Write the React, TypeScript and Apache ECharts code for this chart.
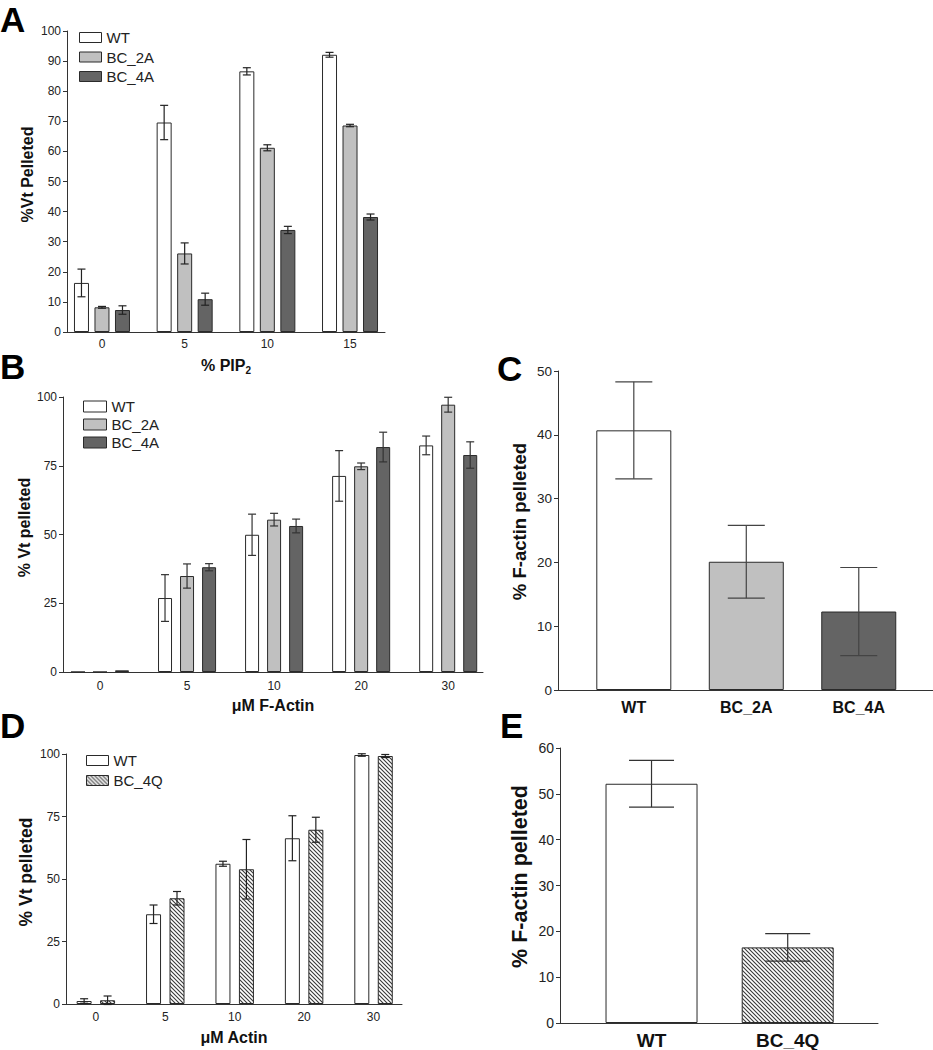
import React, { useEffect, useRef } from 'react';
import * as echarts from 'echarts';

// ---------- data ----------
const pipCats = ['0', '5', '10', '15'];
const aWT = [16.3, 69.6, 86.6, 92.1];
const aWTErr = [4.6, 5.7, 1.2, 0.8];
const a2A = [8.2, 26.1, 61.2, 68.6];
const a2AErr = [0.3, 3.5, 1.0, 0.4];
const a4A = [7.3, 10.9, 33.9, 38.2];
const a4AErr = [1.4, 2.0, 1.2, 1.0];

const fActinCats = ['0', '5', '10', '20', '30'];
const bWT = [0, 26.9, 49.9, 71.3, 82.4];
const bWTErr = [0, 8.5, 7.5, 9.2, 3.4];
const b2A = [0, 34.9, 55.4, 74.8, 97.2];
const b2AErr = [0, 4.4, 2.3, 1.2, 2.7];
const b4A = [0.6, 38.1, 53.1, 81.8, 78.9];
const b4AErr = [0, 1.3, 2.5, 5.4, 4.8];

const cCats = ['WT', 'BC_2A', 'BC_4A'];
const cVals = [40.7, 20.1, 12.3];
const cErr = [7.6, 5.7, 6.9];

const actinCats = ['0', '5', '10', '20', '30'];
const dWT = [1.2, 35.9, 56.1, 66.3, 99.6];
const dWTErr = [0.9, 3.7, 1.0, 9.0, 0.5];
const d4Q = [1.5, 42.3, 53.9, 69.7, 99.2];
const d4QErr = [1.7, 2.7, 11.9, 5.0, 0.6];

const eCats = ['WT', 'BC_4Q'];
const eVals = [52.2, 16.5];
const eErr = [5.1, 3.0];

// ---------- styles ----------
const FONT = "'Liberation Sans', Arial, Helvetica, sans-serif";
const AXIS_COLOR = '#333';
const LABEL_COLOR = '#222';
const BORDER = '#2a2a2a';
const WHITE = '#ffffff';
const LIGHT = '#c0c0c0';
const DARK = '#646464';

function makeHatch() {
  const c = document.createElement('canvas');
  c.width = 4;
  c.height = 4;
  const ctx = c.getContext('2d')!;
  ctx.fillStyle = '#ffffff';
  ctx.fillRect(0, 0, 4, 4);
  ctx.strokeStyle = '#3a3a3a';
  ctx.lineWidth = 1.1;
  ctx.beginPath();
  ctx.moveTo(-1, -1);
  ctx.lineTo(5, 5);
  ctx.moveTo(-1, 3);
  ctx.lineTo(1, 5);
  ctx.moveTo(3, -1);
  ctx.lineTo(5, 1);
  ctx.stroke();
  return c;
}

function barSeries(name: string, grid: number, values: number[], offset: number, width: number, color: any) {
  return {
    type: 'bar',
    name,
    xAxisIndex: grid,
    yAxisIndex: grid,
    barWidth: width,
    barGap: '-100%',
    data: values.map((v, i) => [i + offset, v]),
    itemStyle: { color, borderColor: BORDER, borderWidth: 1 },
    z: 2,
  };
}

function errSeries(grid: number, values: number[], errs: number[], offset: number, cap: number, color: string) {
  return {
    type: 'custom',
    xAxisIndex: grid,
    yAxisIndex: grid,
    silent: true,
    z: 5,
    data: values.map((v, i) => [i + offset, v, errs[i]]),
    renderItem: (params: any, api: any) => {
      const x = api.value(0);
      const m = api.value(1);
      const e = api.value(2);
      if (!e) return { type: 'group', children: [] };
      const top = api.coord([x, m + e]);
      const bot = api.coord([x, m - e]);
      const style = { stroke: color, lineWidth: 1.2 };
      return {
        type: 'group',
        children: [
          { type: 'line', shape: { x1: top[0], y1: top[1], x2: bot[0], y2: bot[1] }, style },
          { type: 'line', shape: { x1: top[0] - cap / 2, y1: top[1], x2: top[0] + cap / 2, y2: top[1] }, style },
          { type: 'line', shape: { x1: bot[0] - cap / 2, y1: bot[1], x2: bot[0] + cap / 2, y2: bot[1] }, style },
        ],
      };
    },
  };
}

function yAxis(grid: number, max: number, interval: number, name: string, o: any) {
  return {
    type: 'value',
    gridIndex: grid,
    min: 0,
    max,
    interval,
    axisLine: { show: true, onZero: false, lineStyle: { color: AXIS_COLOR, width: 1 } },
    axisTick: { show: true, length: 4, lineStyle: { color: AXIS_COLOR } },
    splitLine: { show: false },
    axisLabel: { fontSize: o.labelSize, color: LABEL_COLOR, fontFamily: FONT, margin: 6 },
    name,
    nameLocation: 'middle',
    nameGap: o.nameGap,
    nameRotate: 90,
    nameTextStyle: {
      fontSize: o.nameSize,
      fontWeight: 'bold',
      color: '#111',
      fontFamily: FONT,
      padding: [0, 0, 0, o.shift * 2],
    },
  };
}

function xAxis(grid: number, cats: string[], min: number, max: number, name: string, o: any) {
  return {
    type: 'value',
    gridIndex: grid,
    min,
    max,
    axisLine: { show: true, onZero: false, lineStyle: { color: AXIS_COLOR, width: 1 } },
    axisTick: { show: false },
    splitLine: { show: false },
    axisLabel: {
      customValues: cats.map((_, i) => i),
      formatter: (v: number) => cats[Math.round(v)] ?? '',
      fontSize: o.labelSize,
      fontWeight: o.labelBold ? 'bold' : 'normal',
      color: o.labelBold ? '#111' : LABEL_COLOR,
      fontFamily: FONT,
      margin: o.labelMargin,
    },
    name,
    nameLocation: 'middle',
    nameGap: o.nameGap,
    nameTextStyle: {
      fontSize: 16,
      fontWeight: 'bold',
      color: '#111',
      fontFamily: FONT,
      rich: {
        sub: { fontSize: 10, fontWeight: 'bold', fontFamily: FONT, color: '#111', padding: [9, 0, 0, 0] },
      },
    },
  };
}

function legend(names: string[], left: number, top: number, gap: number, w: number, h: number) {
  return {
    data: names,
    orient: 'vertical',
    left,
    top,
    itemGap: gap,
    itemWidth: w,
    itemHeight: h,
    itemTextGap: 4,
    icon: 'rect',
    selectedMode: false,
    padding: 0,
    itemStyle: { borderColor: BORDER, borderWidth: 1 },
    textStyle: { fontSize: 15, fontFamily: FONT, color: '#222' },
  };
}

function letter(t: string, x: number, y: number) {
  return {
    type: 'text',
    x,
    y,
    style: { text: t, fontSize: 35, fontWeight: 'bold', fontFamily: FONT, fill: '#000', verticalAlign: 'middle', align: 'left' },
  };
}

export default function App() {
  const ref = useRef<HTMLDivElement>(null);
  useEffect(() => {
    document.body.style.margin = '0';
    const chart = echarts.init(ref.current!, null, { renderer: 'svg' });
    const hatch = { image: makeHatch(), repeat: 'repeat' };

    const option: any = {
      animation: false,
      backgroundColor: '#ffffff',
      grid: [
        { left: 67, top: 31, width: 318, height: 301 },
        { left: 63, top: 397, width: 420, height: 275 },
        { left: 558, top: 371, width: 375, height: 319 },
        { left: 66, top: 754, width: 336, height: 250 },
        { left: 560, top: 748, width: 318, height: 275 },
      ],
      xAxis: [
        xAxis(0, pipCats, -0.423, 3.423, '% PIP{sub|2}', { labelSize: 12, labelMargin: 6, nameGap: 24 }),
        xAxis(1, fActinCats, -0.425, 4.4, 'μM F-Actin', { labelSize: 12, labelMargin: 8, nameGap: 25 }),
        xAxis(2, cCats, -0.674, 2.66, '', { labelSize: 16, labelBold: true, labelMargin: 9 }),
        xAxis(3, actinCats, -0.43, 4.41, 'μM Actin', { labelSize: 12, labelMargin: 7, nameGap: 25 }),
        xAxis(4, eCats, -0.672, 1.663, '', { labelSize: 19, labelBold: true, labelMargin: 8 }),
      ],
      yAxis: [
        yAxis(0, 100, 10, '%Vt Pelleted', { labelSize: 12, nameSize: 16, nameGap: 32, shift: 7 }),
        yAxis(1, 100, 25, '% Vt pelleted', { labelSize: 12, nameSize: 16, nameGap: 31, shift: 7 }),
        yAxis(2, 50, 10, '% F-actin pelleted', { labelSize: 13.5, nameSize: 18.5, nameGap: 29, shift: 9 }),
        yAxis(3, 100, 25, '% Vt pelleted', { labelSize: 12, nameSize: 17.5, nameGap: 31, shift: 7 }),
        yAxis(4, 60, 10, '% F-actin pelleted', { labelSize: 14, nameSize: 21.5, nameGap: 29, shift: 9 }),
      ],
      legend: [
        legend(['WT', 'BC_2A', 'BC_4A'], 79, 30, 4.5, 22, 10),
        legend(['WT', 'BC_2A', 'BC_4A'], 83, 399, 3, 23, 11),
        legend(['WT', 'BC_4Q'], 86, 753, 5, 22, 10),
      ],
      graphic: [
        letter('A', 0, 19),
        letter('B', 0, 366),
        letter('C', 497, 368),
        letter('D', 0, 725),
        letter('E', 500, 725),
      ],
      series: [
        // A
        barSeries('WT', 0, aWT, -0.248, 15, WHITE),
        barSeries('BC_2A', 0, a2A, 0, 15, LIGHT),
        barSeries('BC_4A', 0, a4A, 0.248, 15, DARK),
        errSeries(0, aWT, aWTErr, -0.248, 8, '#222'),
        errSeries(0, a2A, a2AErr, 0, 8, '#222'),
        errSeries(0, a4A, a4AErr, 0.248, 8, '#222'),
        // B
        barSeries('WT', 1, bWT, -0.253, 14, WHITE),
        barSeries('BC_2A', 1, b2A, 0, 14, LIGHT),
        barSeries('BC_4A', 1, b4A, 0.253, 14, DARK),
        errSeries(1, bWT, bWTErr, -0.253, 8, '#333'),
        errSeries(1, b2A, b2AErr, 0, 8, '#333'),
        errSeries(1, b4A, b4AErr, 0.253, 8, '#333'),
        // C
        {
          type: 'bar',
          name: 'C',
          xAxisIndex: 2,
          yAxisIndex: 2,
          barWidth: 75,
          barGap: '-100%',
          data: cVals.map((v, i) => ({ value: [i, v], itemStyle: { color: [WHITE, LIGHT, DARK][i] } })),
          itemStyle: { borderColor: BORDER, borderWidth: 1 },
        },
        errSeries(2, cVals, cErr, 0, 37, '#444'),
        // D
        barSeries('WT', 3, dWT, -0.169, 15, WHITE),
        barSeries('BC_4Q', 3, d4Q, 0.169, 15, hatch),
        errSeries(3, dWT, dWTErr, -0.169, 8, '#222'),
        errSeries(3, d4Q, d4QErr, 0.169, 8, '#222'),
        // E
        {
          type: 'bar',
          name: 'E',
          xAxisIndex: 4,
          yAxisIndex: 4,
          barWidth: 92,
          barGap: '-100%',
          data: eVals.map((v, i) => ({ value: [i, v], itemStyle: { color: [WHITE, hatch][i] } })),
          itemStyle: { borderColor: BORDER, borderWidth: 1 },
        },
        errSeries(4, eVals, eErr, 0, 45, '#333'),
      ],
    };
    chart.setOption(option);
    return () => chart.dispose();
  }, []);
  return <div ref={ref} style={{ width: 933, height: 1050 }} />;
}
